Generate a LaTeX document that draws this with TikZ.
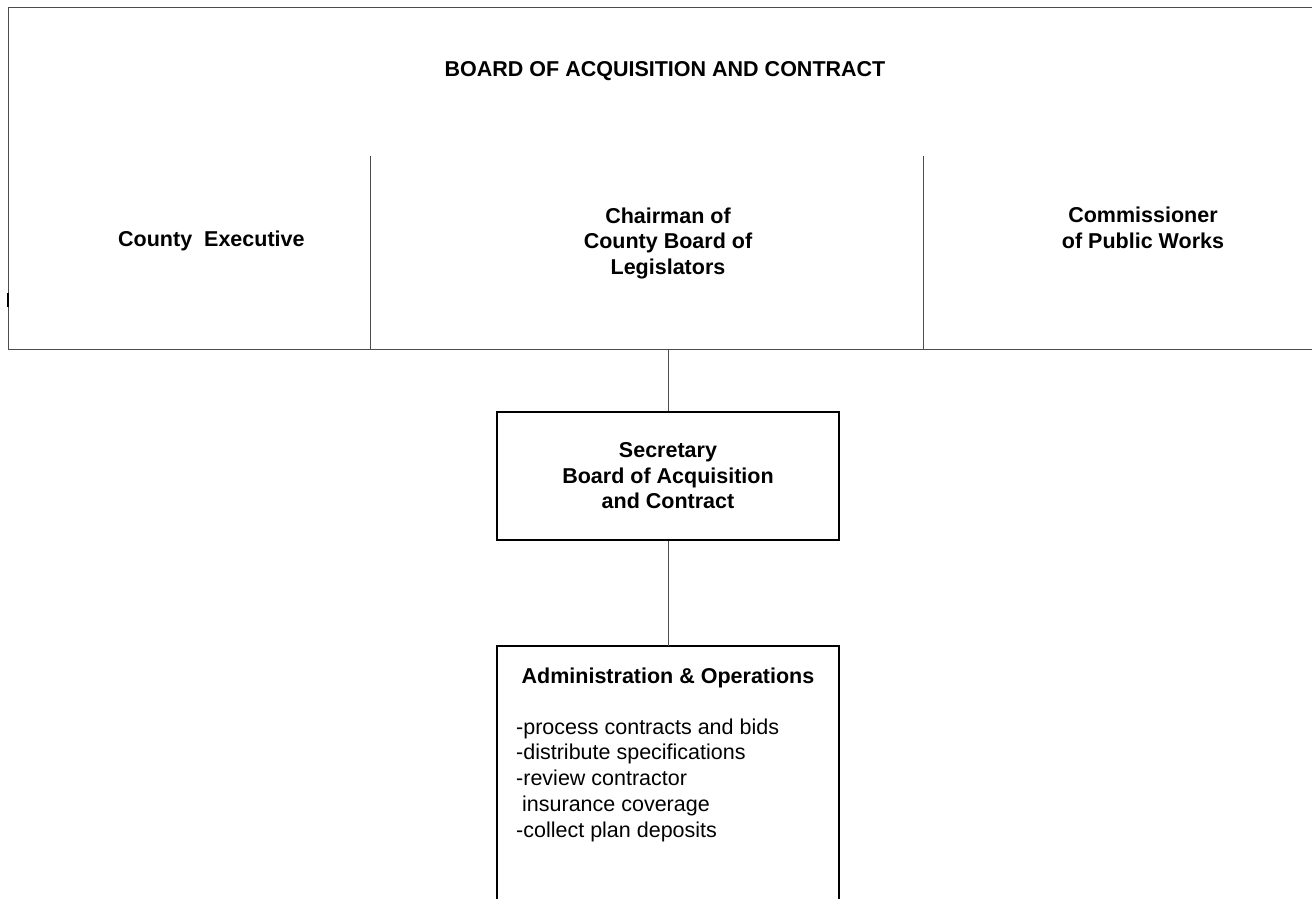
\documentclass[tikz,border=0pt]{standalone}
\usepackage{fontspec}
\setmainfont{Liberation Sans}
\begin{document}
\begin{tikzpicture}[x=1pt,y=-1pt,
  frame/.style={draw=black!70, line width=1pt},
  boxline/.style={draw=black, line width=1.3pt},
  conn/.style={draw=black!70, line width=1pt},
  hd/.style={font=\fontsize{21.5}{25.5}\selectfont\bfseries, align=center, inner sep=0pt},
  body/.style={font=\fontsize{21.5}{25.7}\selectfont, align=left, inner sep=0pt}]
\useasboundingbox (0,0) rectangle (1312,899);
\fill[white] (0,0) rectangle (1312,899);
% outer board frame (open at right)
\draw[frame] (1312,8) -- (8,8) -- (8,349) -- (1312,349);
\draw[black, line width=1.6pt] (8,293) -- (8,307);
\draw[frame] (370,156) -- (370,349);
\draw[frame] (923,156) -- (923,349);
\node[hd] (title) at (665,71) {BOARD OF ACQUISITION AND CONTRACT};
\node[hd, anchor=base west] (ce) at (118,246) {County\hspace{6pt} Executive};
\node[hd, anchor=north] (chair) at (668,207.5) {Chairman of\\County Board of\\Legislators};
\node[hd, anchor=north] (comm) at (1143,207) {Commissioner\\of Public Works};
\coordinate (boardbot) at (668,349);
% secretary
\node[boxline, minimum width=342pt, minimum height=128pt, inner sep=0pt] (sec) at (668,476) {};
\node[hd, anchor=north] (sectext) at (668,442.5) {Secretary\\Board of Acquisition\\and Contract};
% administration box (open at bottom)
\coordinate (admtop) at (668,646);
\draw[boxline] (497,899) -- (497,646) -- (839,646) -- (839,899);
\node[hd, anchor=north] (admtitle) at (668,667.5) {Administration \& Operations};
\node[body, anchor=north west] (admlist) at (516,718.5) {-process contracts and bids\\-distribute specifications\\-review contractor\\\ insurance coverage\\-collect plan deposits};
% connectors
\draw[conn] (boardbot) -- (sec.north);
\draw[conn] (sec.south) -- (admtop);
\end{tikzpicture}
\end{document}
